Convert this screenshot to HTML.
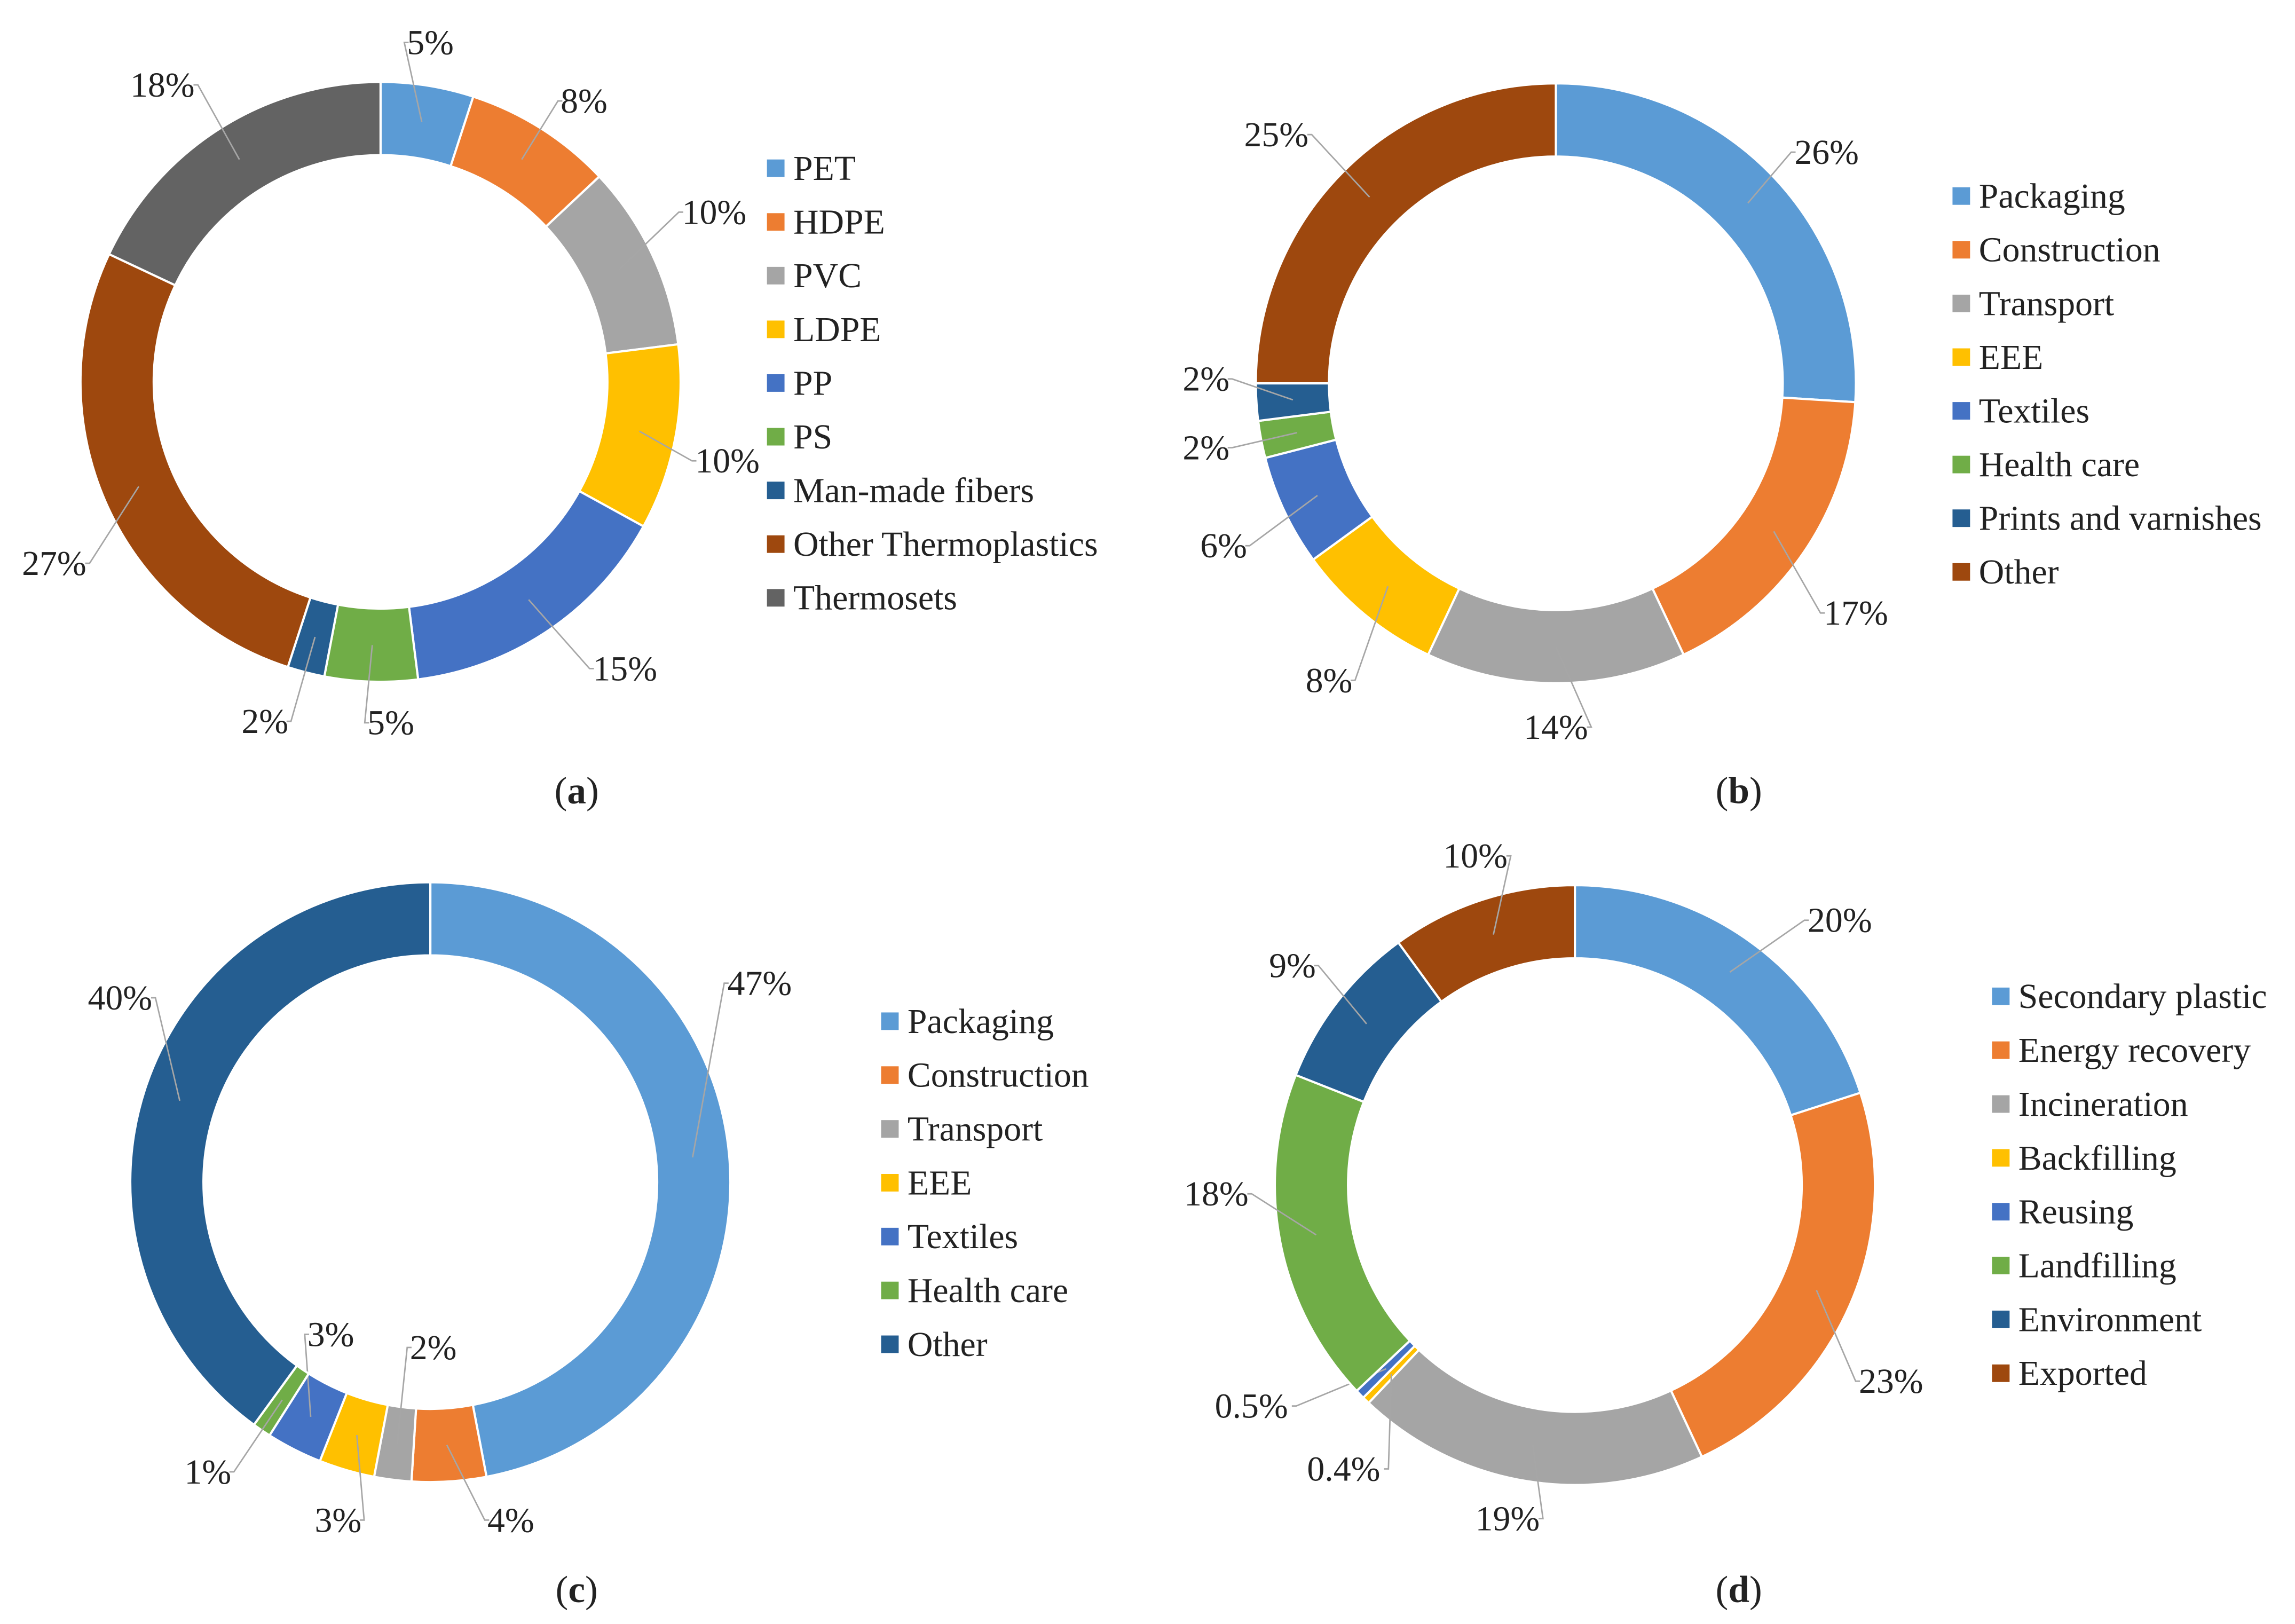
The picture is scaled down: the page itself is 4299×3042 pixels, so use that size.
<!DOCTYPE html>
<html><head><meta charset="utf-8">
<style>
html,body{margin:0;padding:0;background:#fff;}
svg{display:block;}
svg text{font-family:"Liberation Serif","DejaVu Serif",serif;fill:#222;}
</style></head>
<body>
<svg id="fig" width="4299" height="3042" viewBox="0 0 1568 1110" preserveAspectRatio="none" font-family="Liberation Serif, DejaVu Serif, serif" xmlns="http://www.w3.org/2000/svg"></svg>
<script>
// ---- data ----
const catsA = ["PET","HDPE","PVC","LDPE","PP","PS","Man-made fibers","Other Thermoplastics","Thermosets"];
const valsA = [5,8,10,10,15,5,2,27,18];
const lblsA = ["5%","8%","10%","10%","15%","5%","2%","27%","18%"];
const colsA = ["#5B9BD5","#ED7D31","#A5A5A5","#FFC000","#4472C4","#70AD47","#255E91","#9E480E","#636363"];

const catsB = ["Packaging","Construction","Transport","EEE","Textiles","Health care","Prints and varnishes","Other"];
const valsB = [26,17,14,8,6,2,2,25];
const lblsB = ["26%","17%","14%","8%","6%","2%","2%","25%"];
const colsB = ["#5B9BD5","#ED7D31","#A5A5A5","#FFC000","#4472C4","#70AD47","#255E91","#9E480E"];

const catsC = ["Packaging","Construction","Transport","EEE","Textiles","Health care","Other"];
const valsC = [47,4,2,3,3,1,40];
const lblsC = ["47%","4%","2%","3%","3%","1%","40%"];
const colsC = ["#5B9BD5","#ED7D31","#A5A5A5","#FFC000","#4472C4","#70AD47","#255E91"];

const catsD = ["Secondary plastic","Energy recovery","Incineration","Backfilling","Reusing","Landfilling","Environment","Exported"];
const valsD = [20,23,19,0.4,0.5,18,9,10];
const lblsD = ["20%","23%","19%","0.4%","0.5%","18%","9%","10%"];
const colsD = ["#5B9BD5","#ED7D31","#A5A5A5","#FFC000","#4472C4","#70AD47","#255E91","#9E480E"];

// ---- layout (not data) ----
const layoutA = {cx:260,cy:261,ro:205,ri:155,legX:530,legY:115,legDy:36.7,cap:"a",capX:394,capY:540,
  lab:[[294,29],[399,69],[488,145],[497,315],[427,457],[267,494],[181,493],[37,385],[111,58]]};
const layoutB = {cx:1063,cy:262,ro:205,ri:155,legX:1340,legY:134,legDy:36.7,cap:"b",capX:1188,capY:540,
  lab:[[1248,104],[1268,419],[1063,497],[908,465],[836,373],[824,306],[824,259],[872,92]]};
const layoutC = {cx:294,cy:808,ro:205,ri:155,legX:608,legY:698,legDy:36.8,cap:"c",capX:394,capY:1086,
  lab:[[519,672],[349,1039],[296,921],[231,1039],[226,912],[142,1006],[82,682]]};
const layoutD = {cx:1076,cy:810,ro:205,ri:155,legX:1367,legY:681,legDy:36.8,cap:"d",capX:1188,capY:1086,
  lab:[[1257,629],[1292,944],[1030,1038],[918,1004],[855,961],[831,816],[883,660],[1008,585]]};

const NS="http://www.w3.org/2000/svg";
const svg=document.getElementById("fig");
function mk(tag,attrs,parent){const e=document.createElementNS(NS,tag);for(const k in attrs)e.setAttribute(k,attrs[k]);(parent||svg).appendChild(e);return e;}
function pt(cx,cy,r,a){return [cx+r*Math.sin(a),cy-r*Math.cos(a)];}

function donut(id,cats,vals,lbls,cols,L){
  const g=mk("g",{});
  
  
  const total=vals.reduce((s,v)=>s+v,0);
  let acc=0;
  vals.forEach((v,i)=>{
    const a0=acc/total*2*Math.PI; acc+=v; const a1=acc/total*2*Math.PI;
    const large=(a1-a0)>Math.PI?1:0;
    const [x0,y0]=pt(L.cx,L.cy,L.ro,a0),[x1,y1]=pt(L.cx,L.cy,L.ro,a1);
    const [x2,y2]=pt(L.cx,L.cy,L.ri,a1),[x3,y3]=pt(L.cx,L.cy,L.ri,a0);
    const p=mk("path",{d:`M${x0},${y0}A${L.ro},${L.ro} 0 ${large} 1 ${x1},${y1}L${x2},${y2}A${L.ri},${L.ri} 0 ${large} 0 ${x3},${y3}Z`,fill:cols[i],stroke:"#fff","stroke-width":1.5},g);
    
    
    const am=(a0+a1)/2;
    const [mx,my]=pt(L.cx,L.cy,(L.ro+L.ri)/2,am);
    const [lx,ly]=L.lab[i];
    const w=lbls[i].length*6.4;
    const ex = lx>mx ? lx-w-5 : lx+w+5;
    const ln=mk("polyline",{points:`${mx},${my} ${ex},${ly} ${lx>mx?ex+3:ex-3},${ly}`,fill:"none",stroke:"#a6a6a6","stroke-width":1},g);
    
    
    const t=mk("text",{x:lx,y:ly+8,"text-anchor":"middle","font-size":24},g);
    t.textContent=lbls[i];
    
    
  });
  const lg=mk("g",{},g);
  
  
  cats.forEach((c,i)=>{
    const y=L.legY+i*L.legDy;
    const e=mk("g",{},lg);
    
    
    mk("rect",{x:L.legX-6,y:y-6,width:12,height:12,fill:cols[i]},e);
    const t=mk("text",{x:L.legX+12,y:y+8,"font-size":24},e);
    t.textContent=c;
  });
  const cap=mk("text",{x:L.capX,y:L.capY+9,"text-anchor":"middle","font-size":26},g);
  
  
  cap.innerHTML='(<tspan font-weight="bold">'+L.cap+'</tspan>)';
}
donut("a",catsA,valsA,lblsA,colsA,layoutA);
donut("b",catsB,valsB,lblsB,colsB,layoutB);
donut("c",catsC,valsC,lblsC,colsC,layoutC);
donut("d",catsD,valsD,lblsD,colsD,layoutD);
</script>
</body></html>
